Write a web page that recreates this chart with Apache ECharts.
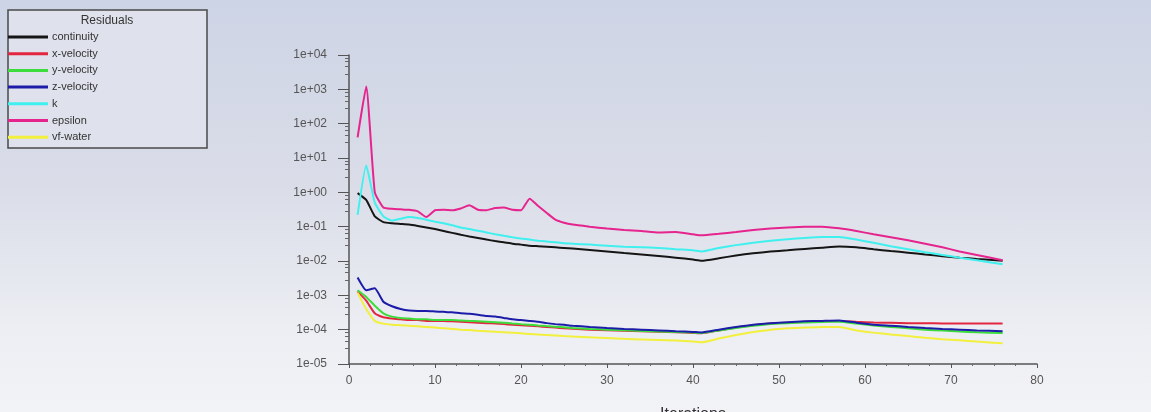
<!DOCTYPE html>
<html>
<head>
<meta charset="utf-8">
<title>Residuals</title>
<script src="https://cdn.jsdelivr.net/npm/echarts@6/dist/echarts.min.js"></script>
<style>
  html, body { margin: 0; padding: 0; }
  body { width: 1151px; height: 412px; overflow: hidden;
         background: linear-gradient(to bottom, #cdd4e5 0%, #dadde8 45%, #eceef3 80%, #f2f3f6 100%); }
  #chart { width: 1151px; height: 412px; }
</style>
</head>
<body>
<div id="chart"></div>
<script>
// Solver iterations at which residuals were sampled
const iterations = [1,2,3,4,5,6,7,8,9,10,11,12,13,14,15,16,17,18,19,20,21,22,23,24,25,26,28,30,32,34,36,38,40,41,43,45,47,49,51,53,55,57,59,61,63,65,67,69,71,73,76];

const continuity = [0.95,0.6,0.2,0.135,0.125,0.12,0.115,0.105,0.095,0.085,0.075,0.066,0.058,0.052,0.047,0.042,0.038,0.035,0.032,0.03,0.028,0.027,0.026,0.025,0.024,0.023,0.021,0.019,0.017,0.0155,0.014,0.0125,0.011,0.0102,0.012,0.0145,0.0168,0.0188,0.0205,0.0225,0.0245,0.0265,0.025,0.022,0.0195,0.0175,0.0155,0.0138,0.0125,0.0115,0.0102];

const xVelocity = [0.0013,0.0007,0.0003,0.00023,0.00021,0.0002,0.00019,0.00019,0.00018,0.00018,0.00018,0.000175,0.00017,0.000165,0.00016,0.000155,0.00015,0.000145,0.00014,0.000135,0.00013,0.000125,0.00012,0.000115,0.00011,0.000106,0.0001,0.000096,0.000093,0.00009,0.000087,0.000084,0.00008,0.000078,0.000095,0.000115,0.000135,0.00015,0.00016,0.00017,0.000178,0.00018,0.00017,0.000162,0.000158,0.000155,0.000153,0.000152,0.00015,0.00015,0.00015];

const yVelocity = [0.0014,0.0009,0.0005,0.0003,0.00024,0.00022,0.00021,0.0002,0.0002,0.00019,0.00019,0.00019,0.000185,0.00018,0.000175,0.00017,0.000165,0.00016,0.000152,0.000145,0.00014,0.000133,0.000127,0.000122,0.000117,0.000112,0.000105,0.0001,0.000096,0.000092,0.000089,0.000086,0.000082,0.00008,0.000095,0.000112,0.00013,0.000145,0.000155,0.000162,0.000168,0.00017,0.00015,0.000132,0.00012,0.00011,0.0001,0.000094,0.000088,0.000084,0.00008];

const zVelocity = [0.0033,0.0014,0.0016,0.00065,0.00048,0.0004,0.00036,0.00035,0.00035,0.00034,0.00033,0.00032,0.0003,0.00029,0.00027,0.00025,0.00024,0.00022,0.0002,0.00019,0.00018,0.00017,0.000155,0.000145,0.000138,0.00013,0.00012,0.000112,0.000105,0.0001,0.000095,0.00009,0.000086,0.000083,0.0001,0.00012,0.00014,0.000155,0.000165,0.000175,0.00018,0.000185,0.00016,0.00014,0.00013,0.00012,0.000112,0.000105,0.0001,0.000095,0.00009];

const kResidual = [0.22,6.0,0.5,0.2,0.15,0.17,0.19,0.18,0.16,0.14,0.125,0.11,0.095,0.085,0.076,0.068,0.06,0.054,0.049,0.045,0.042,0.039,0.037,0.035,0.033,0.032,0.03,0.028,0.026,0.025,0.024,0.022,0.0205,0.019,0.024,0.029,0.034,0.039,0.043,0.047,0.05,0.05,0.042,0.034,0.027,0.022,0.018,0.015,0.0125,0.0105,0.008];

const epsilon = [40,1200,1.0,0.36,0.33,0.32,0.31,0.28,0.19,0.3,0.31,0.3,0.34,0.42,0.31,0.3,0.35,0.36,0.31,0.3,0.65,0.4,0.25,0.16,0.13,0.115,0.1,0.088,0.08,0.075,0.068,0.07,0.06,0.056,0.062,0.07,0.08,0.088,0.095,0.1,0.1,0.09,0.075,0.06,0.049,0.04,0.032,0.025,0.019,0.015,0.0105];

const vfWater = [0.0012,0.0004,0.00018,0.00015,0.00014,0.000135,0.00013,0.000125,0.00012,0.000115,0.00011,0.000105,0.0001,0.000097,0.000093,0.00009,0.000087,0.000084,0.000081,0.000078,0.000075,0.000072,0.00007,0.000068,0.000065,0.000063,0.00006,0.000057,0.000054,0.000052,0.00005,0.000048,0.000045,0.000043,0.000055,0.00007,0.000085,0.0001,0.00011,0.000115,0.00012,0.00012,0.000095,0.000082,0.000072,0.000065,0.000058,0.000053,0.000049,0.000045,0.00004];

const seriesNames = ['continuity','x-velocity','y-velocity','z-velocity','k','epsilon','vf-water'];
const seriesValues = [continuity, xVelocity, yVelocity, zVelocity, kResidual, epsilon, vfWater];
const seriesColors = ['#151515','#e3263f','#3cdc3c','#1c1ca8','#3ff0ee','#e5248e','#f2f03c'];

// Tick labels of the logarithmic residual axis, from 1e-05 up to 1e+04
const yTickLabels = ['1e-05','1e-04','1e-03','1e-02','1e-01','1e+00','1e+01','1e+02','1e+03','1e+04'];
const xTickLabels = ['0','10','20','30','40','50','60','70','80'];

const FONT = 'Liberation Sans, Arial, sans-serif';

const chart = echarts.init(document.getElementById('chart'), null, { renderer: 'canvas' });

const series = seriesNames.map((name, i) => ({
  name: name,
  type: 'line',
  data: iterations.map((it, j) => [it, seriesValues[i][j]]),
  symbol: 'none',
  showSymbol: false,
  smooth: 0.15,
  lineStyle: { color: seriesColors[i], width: 2 },
  itemStyle: { color: seriesColors[i] },
  z: 2 + i
}));

chart.setOption({
  backgroundColor: 'transparent',
  animation: false,
  graphic: [
    {
      type: 'rect',
      x: 8, y: 10,
      shape: { x: 0, y: 0, width: 199, height: 138 },
      style: { fill: '#dfe2ec', stroke: '#4a4a4a', lineWidth: 1.5 },
      z: 0
    },
    {
      type: 'text',
      x: 107, y: 21,
      style: { text: 'Residuals', font: '12px ' + FONT, fill: '#333',
               align: 'center', verticalAlign: 'middle' },
      z: 1
    }
  ],
  legend: {
    orient: 'vertical',
    left: 8,
    top: 31,
    padding: 0,
    itemWidth: 40,
    itemHeight: 3,
    itemGap: 4.7,
    icon: 'rect',
    selectedMode: false,
    textStyle: { fontFamily: FONT, fontSize: 11, color: '#333', lineHeight: 12, padding: [0, 0, 0, -1] },
    data: seriesNames
  },
  grid: { left: 349, top: 55, width: 688, height: 309, containLabel: false, outerBoundsMode: 'none' },
  xAxis: {
    type: 'value',
    min: 0, max: 80, interval: 10,
    name: 'Iterations',
    nameLocation: 'middle',
    nameGap: 43,
    nameTextStyle: { fontFamily: FONT, fontSize: 16, color: '#333' },
    axisLine: { show: true, lineStyle: { color: '#555', width: 1.5 } },
    axisTick: { show: true, length: 4, lineStyle: { color: '#555' } },
    minorTick: { show: true, splitNumber: 4, length: 2, lineStyle: { color: '#666' } },
    splitLine: { show: false },
    axisLabel: {
      margin: 11, fontFamily: FONT, fontSize: 12, color: '#555',
      formatter: v => xTickLabels[Math.round(v / 10)]
    }
  },
  yAxis: {
    type: 'log',
    logBase: 10,
    min: 1e-5, max: 1e4,
    axisLine: { show: true, onZero: false, lineStyle: { color: '#555', width: 1.5 } },
    axisTick: { show: true, length: 11, lineStyle: { color: '#555' } },
    minorTick: { show: true, splitNumber: 5, length: 4, lineStyle: { color: '#666' } },
    splitLine: { show: false },
    axisLabel: {
      margin: 22, fontFamily: FONT, fontSize: 12, color: '#555',
      formatter: v => yTickLabels[Math.round(Math.log10(v)) + 5]
    }
  },
  series: series
});
</script>
</body>
</html>
